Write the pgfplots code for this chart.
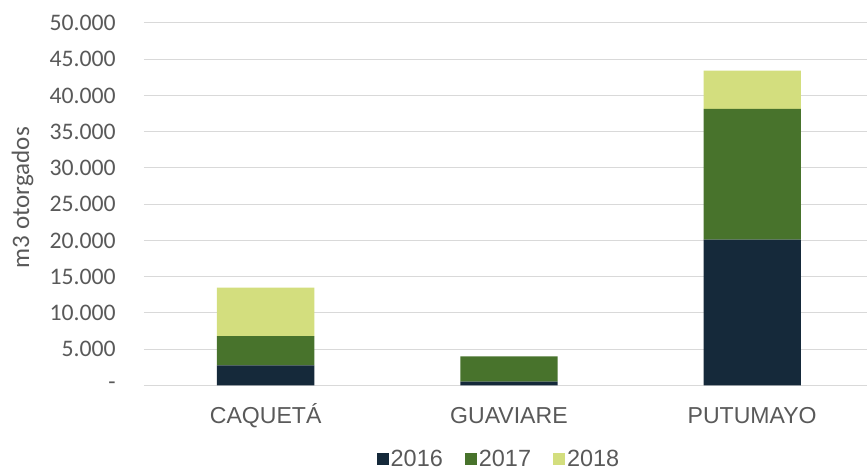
\documentclass[border=0pt]{standalone}
\usepackage{fontspec}
\setmainfont{Liberation Sans}
\newfontfamily\calib{Carlito}
\usepackage{pgfplots}
\pgfplotsset{compat=1.18}
\definecolor{cA}{HTML}{15293A}
\definecolor{cB}{HTML}{48732C}
\definecolor{cC}{HTML}{D3DE7E}
\definecolor{gridc}{HTML}{D9D9D9}
\definecolor{txt}{HTML}{595959}
\begin{document}
\begin{tikzpicture}
\begin{axis}[name=ax, scale only axis, width=542.25pt, height=271.875pt,
  ybar stacked, bar width=0.4,
  xmin=-0.5, xmax=2.472, ymin=0, ymax=50000,
  scaled y ticks=false,
  xtick={0,1,2}, xticklabels={CAQUETÁ,GUAVIARE,PUTUMAYO},
  ytick={0,5000,...,50000},
  yticklabels={-,5.000,10.000,15.000,20.000,25.000,30.000,35.000,40.000,45.000,50.000},
  axis line style={draw=none},
  major tick length=0pt, tick style={draw=none},
  ymajorgrids, major grid style={draw=gridc, line width=0.75pt},
  yticklabel style={font=\calib\fontsize{17.8}{20}\selectfont, text=txt, anchor=east, inner sep=0pt, xshift=-21pt},
  xticklabel style={font=\fontsize{17.3}{20}\selectfont, text=txt, anchor=base, inner sep=0pt, yshift=-28.4pt},
  ylabel={m3 otorgados},
  every axis y label/.style={at={(rel axis cs:0,0.5)}, anchor=center, xshift=-91pt, yshift=5pt, rotate=90, font=\calib\fontsize{18.8}{21}\selectfont, text=txt},
  legend style={at={(0.5,0)}, anchor=center, yshift=-55.4pt, xshift=-4.9pt, draw=none, fill=none,
    font=\fontsize{17.6}{20}\selectfont, text=txt, legend columns=-1,
    /tikz/every even column/.append style={column sep=15pt}, nodes={inner sep=1.5pt}},
  legend image code/.code={\fill[#1] (0pt,-4.5pt) rectangle (9pt,4.5pt);},
]
\addplot[fill=cA, draw=none] coordinates {(0,2780) (1,520) (2,20120)};
\addplot[fill=cB, draw=none] coordinates {(0,4030) (1,3500) (2,18030)};
\addplot[fill=cC, draw=none] coordinates {(0,6700) (1,0) (2,5270)};
\legend{2016,2017,2018}
\end{axis}
\pgfresetboundingbox
\path[use as bounding box] ([xshift=-108pt,yshift=-63.375pt]ax.south west) rectangle ([yshift=17.25pt]ax.north east);
\end{tikzpicture}
\end{document}
